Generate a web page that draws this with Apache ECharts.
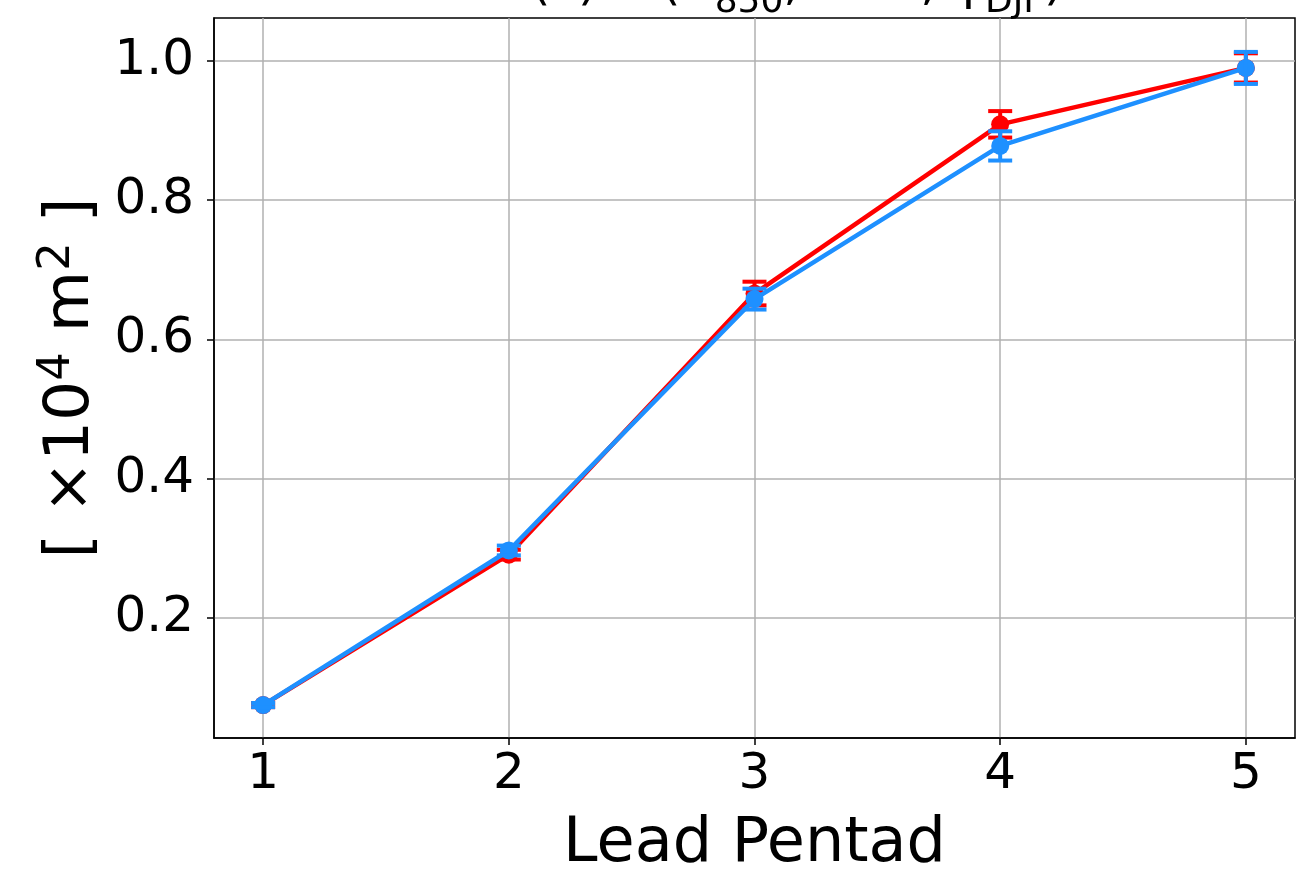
<!DOCTYPE html>
<html>
<head>
<meta charset="UTF-8">
<title>Lead Pentad</title>
<script src="https://cdn.jsdelivr.net/npm/echarts@6/dist/echarts.min.js"></script>
<style>
  html, body { margin: 0; padding: 0; background: #fff; }
  #chart { width: 1296px; height: 871px; }
</style>
</head>
<body>
<div id="chart"></div>
<script>
// data
const leads = [1, 2, 3, 4, 5];
const xTicks = [1, 2, 3, 4, 5];
const yTicks = [0.2, 0.4, 0.6, 0.8, 1.0];
const redMean = [0.075, 0.291, 0.666, 0.909, 0.990];
const redErr = [0.003, 0.007, 0.017, 0.019, 0.021];
const blueMean = [0.075, 0.297, 0.658, 0.878, 0.990];
const blueErr = [0.003, 0.007, 0.015, 0.021, 0.023];

const FONT = 'DejaVu Sans';
const RED = '#ff0000';
const BLUE = '#1e90ff';

function pts(mean) {
    return leads.map((x, i) => [x, mean[i]]);
}
function errRows(mean, err) {
    return leads.map((x, i) => [x, mean[i] - err[i], mean[i] + err[i]]);
}

// error bars with caps
function errorBar(color) {
    return function (params, api) {
        const x = api.value(0);
        const lo = api.coord([x, api.value(1)]);
        const hi = api.coord([x, api.value(2)]);
        const half = 12;
        const st = { stroke: color, lineWidth: 4 };
        return {
            type: 'group',
            children: [
                { type: 'line', shape: { x1: lo[0], y1: lo[1], x2: hi[0], y2: hi[1] }, style: st },
                { type: 'line', shape: { x1: lo[0] - half, y1: lo[1], x2: lo[0] + half, y2: lo[1] }, style: st },
                { type: 'line', shape: { x1: hi[0] - half, y1: hi[1], x2: hi[0] + half, y2: hi[1] }, style: st }
            ]
        };
    };
}

const chart = echarts.init(document.getElementById('chart'));

chart.setOption({
    animation: false,
    title: {
        text: '{a|(c)  Σ(Z}{s|850}{a|, RGE, φ}{s|DJF}{a|)}',
        left: 526,
        top: -44,
        textStyle: {
            fontWeight: 'normal',
            rich: {
                a: { fontFamily: FONT, fontWeight: 'normal', fontSize: 50, color: '#000', lineHeight: 50, verticalAlign: 'top' },
                s: { fontFamily: FONT, fontWeight: 'normal', fontSize: 36, color: '#000', lineHeight: 36, verticalAlign: 'top', padding: [24, 0, 0, 0] }
            }
        }
    },
    grid: {
        left: 214, right: 1, top: 18, bottom: 133,
        outerBoundsMode: 'none',
        containLabel: false,
        show: true, borderColor: '#000', borderWidth: 1.5, backgroundColor: 'transparent'
    },
    xAxis: {
        type: 'value',
        min: 0.8, max: 5.2,
        name: 'Lead Pentad',
        nameLocation: 'middle',
        nameGap: 76,
        nameTextStyle: { fontFamily: FONT, fontSize: 62, color: '#000' },
        axisLine: { show: true, onZero: false, lineStyle: { color: '#000', width: 1.5 } },
        axisTick: { show: true, length: 7, customValues: xTicks, lineStyle: { color: '#000', width: 1.5 } },
        axisLabel: { customValues: xTicks, margin: 12, fontFamily: FONT, fontSize: 50, color: '#000' },
        splitLine: { show: true, lineStyle: { color: '#b0b0b0', width: 1.5 } }
    },
    yAxis: {
        type: 'value',
        min: 0.0277, max: 1.0617,
        name: '{t|[ ×10}{p|4}{t| m}{p|2}{t| ]}',
        nameLocation: 'middle',
        nameRotate: 90,
        nameGap: 108,
        nameTextStyle: {
            rich: {
                t: { fontFamily: FONT, fontSize: 63, color: '#000', lineHeight: 64, verticalAlign: 'bottom' },
                p: { fontFamily: FONT, fontSize: 45, color: '#000', lineHeight: 64, verticalAlign: 'bottom', padding: [0, 0, 24, 0] }
            }
        },
        axisLine: { show: true, onZero: false, lineStyle: { color: '#000', width: 1.5 } },
        axisTick: { show: true, length: 7, customValues: yTicks, lineStyle: { color: '#000', width: 1.5 } },
        axisLabel: {
            customValues: yTicks, margin: 20, fontFamily: FONT, fontSize: 50, color: '#000',
            formatter: v => v.toFixed(1)
        },
        splitLine: { show: true, lineStyle: { color: '#b0b0b0', width: 1.5 } }
    },
    series: [
        {
            type: 'line', data: pts(redMean), z: 2,
            symbol: 'circle', symbolSize: 18, showSymbol: true,
            lineStyle: { color: RED, width: 4.5 }, itemStyle: { color: RED }
        },
        {
            type: 'custom', data: errRows(redMean, redErr), z: 3,
            renderItem: errorBar(RED), encode: { x: 0, y: [1, 2] }
        },
        {
            type: 'line', data: pts(blueMean), z: 4,
            symbol: 'circle', symbolSize: 18, showSymbol: true,
            lineStyle: { color: BLUE, width: 4.5 }, itemStyle: { color: BLUE }
        },
        {
            type: 'custom', data: errRows(blueMean, blueErr), z: 5,
            renderItem: errorBar(BLUE), encode: { x: 0, y: [1, 2] }
        }
    ]
});
</script>
</body>
</html>
